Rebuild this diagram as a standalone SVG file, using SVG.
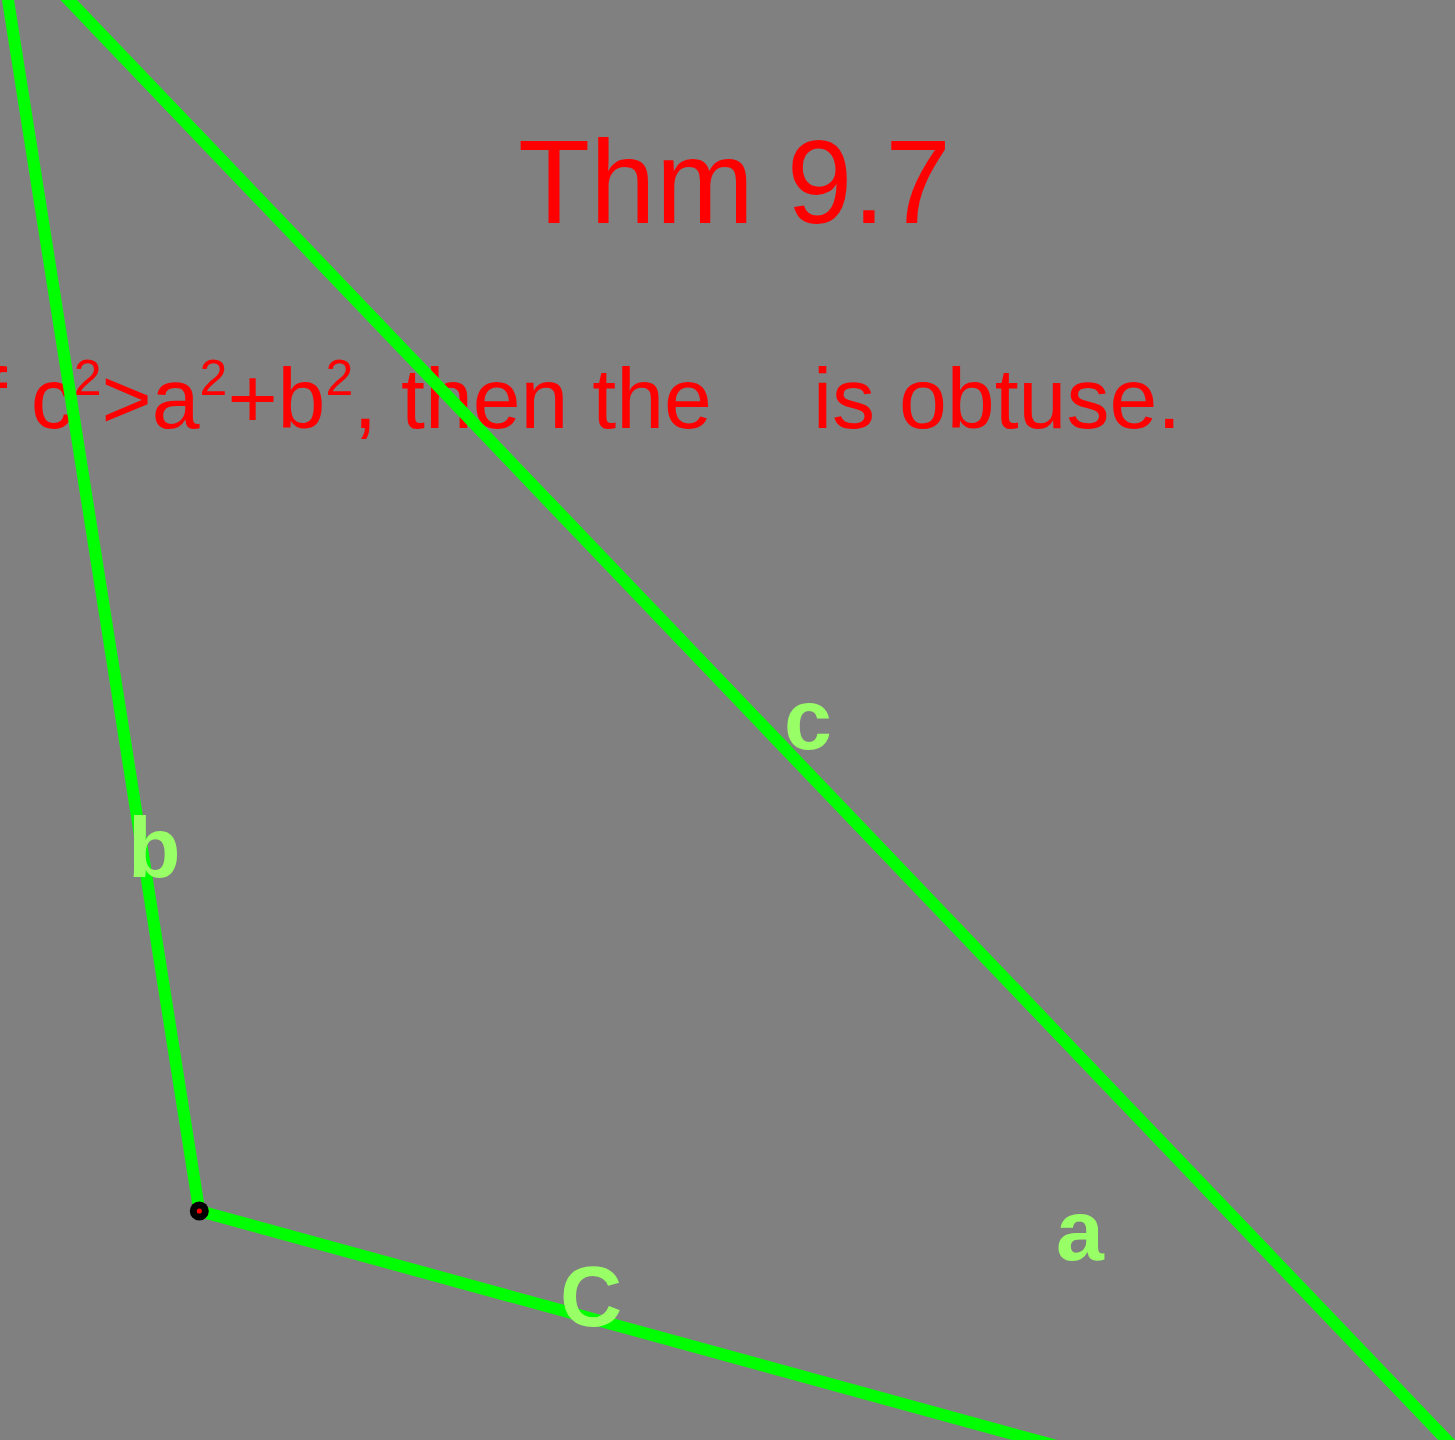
<svg xmlns="http://www.w3.org/2000/svg" width="1455" height="1440" viewBox="0 0 1455 1440">
  <style>
    .thm { font-family: "Liberation Sans", Arial, sans-serif; fill: #ff0000; }
    .lbl { font-family: "Liberation Sans", Arial, sans-serif; font-weight: bold; font-size: 86px; fill: #99ff66; }
    .side { fill: none; stroke: #00ff00; stroke-width: 12; stroke-linejoin: round; }
  </style>
  <rect x="0" y="0" width="1455" height="1440" fill="#808080"/>
  <g id="title">
    <text class="thm" x="518" y="223" font-size="118">Thm 9.7</text>
  </g>
  <g id="statement">
    <text class="thm" x="-41" y="428" font-size="86">If c<tspan font-size="50" dy="-33">2</tspan><tspan dy="33">&gt;a</tspan><tspan font-size="50" dy="-33">2</tspan><tspan dy="33">+b</tspan><tspan font-size="50" dy="-33">2</tspan><tspan dy="33">, then the</tspan></text>
    <text class="thm" x="813" y="428" font-size="86">is obtuse.</text>
  </g>
  <g id="connectors">
    <polygon class="side" points="-4,-76 199.3,1211 1593,1593"/>
  </g>
  <g id="vertex-C">
    <circle cx="199.3" cy="1211" r="9.5" fill="#000000"/>
    <circle cx="199.3" cy="1211" r="2.6" fill="#ff0000"/>
  </g>
  <g id="label-c"><text class="lbl" x="784" y="749">c</text></g>
  <g id="label-b"><text class="lbl" x="128" y="877">b</text></g>
  <g id="label-C"><text class="lbl" x="560" y="1326">C</text></g>
  <g id="label-a"><text class="lbl" x="1056" y="1260">a</text></g>
</svg>
